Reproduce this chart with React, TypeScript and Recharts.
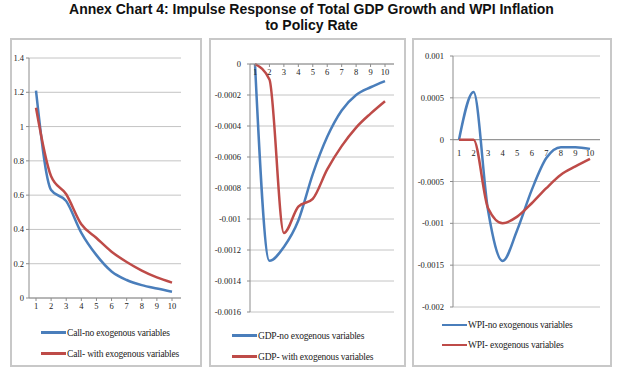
import React from 'react';
import { LineChart, Line, XAxis, YAxis, CartesianGrid, Legend, ReferenceLine } from 'recharts';

const periods = ['1', '2', '3', '4', '5', '6', '7', '8', '9', '10'];

const callNoExo = [1.21, 0.63, 0.565, 0.38, 0.25, 0.155, 0.105, 0.075, 0.055, 0.037];
const callWithExo = [1.11, 0.71, 0.605, 0.43, 0.35, 0.27, 0.21, 0.16, 0.12, 0.09];

const gdpNoExo = [0, -0.00127, -0.00118, -0.00101, -0.00071, -0.00047, -0.0003, -0.0002, -0.00015, -0.00011];
const gdpWithExo = [0, -0.0001, -0.00109, -0.00092, -0.00087, -0.00068, -0.00053, -0.00041, -0.00032, -0.00024];

const wpiNoExo = [0, 0.00057, -0.00085, -0.00145, -0.00108, -0.0006, -0.00022, -0.00009, -0.00009, -0.00011];
const wpiWithExo = [0, 0, -0.00082, -0.001, -0.00092, -0.00076, -0.00058, -0.00042, -0.00032, -0.00023];

const callTicks = [0, 0.2, 0.4, 0.6, 0.8, 1, 1.2, 1.4];
const gdpTicks = [0, -0.0002, -0.0004, -0.0006, -0.0008, -0.001, -0.0012, -0.0014, -0.0016];
const wpiTicks = [0.001, 0.0005, 0, -0.0005, -0.001, -0.0015, -0.002];

const legendCall = ['Call-no exogenous variables', 'Call- with exogenous variables'];
const legendGdp = ['GDP-no exogenous variables', 'GDP- with exogenous variables'];
const legendWpi = ['WPI-no exogenous variables', 'WPI- exogenous variables'];

const BLUE = '#4a7ebb';
const RED = '#be4b48';
const GRID = '#c4c4c4';
const AXIS = '#8c8c8c';
const SERIF = '"Liberation Serif", "Times New Roman", serif';

const build = (a: number[], b: number[]) => periods.map((p, i) => ({ p, a: a[i], b: b[i] }));

const callData = build(callNoExo, callWithExo);
const gdpData = build(gdpNoExo, gdpWithExo);
const wpiData = build(wpiNoExo, wpiWithExo);

const tickStyle = { fontSize: 8.5, fill: '#222', fontFamily: SERIF };

function makeLegend(labels: string[], height: number, padTop: number, padLeft: number, rowH: number) {
  return () => (
    <div style={{ height, paddingTop: padTop, paddingLeft: padLeft, boxSizing: 'border-box' }}>
      {labels.map((l, i) => (
        <div key={l} style={{ height: rowH, display: 'flex', alignItems: 'center' }}>
          <span style={{ display: 'inline-block', width: 25, height: 2.5, background: i === 0 ? BLUE : RED, marginRight: 1 }} />
          <span style={{ fontFamily: SERIF, fontSize: 9.5, color: '#222', letterSpacing: -0.2, whiteSpace: 'nowrap' }}>{l}</span>
        </div>
      ))}
    </div>
  );
}

const Box = ({ left, width, children }: { left: number; width: number; children: React.ReactNode }) => (
  <div style={{ position: 'absolute', left, top: 38, width, height: 329 }}>
    {children}
    <div style={{ position: 'absolute', left: 0, top: 0, width, height: 329, boxSizing: 'border-box', border: '2px solid #c8c8c8', pointerEvents: 'none' }} />
  </div>
);

const WpiTick = (props: any) => {
  const { x, y, payload } = props;
  return (
    <text x={x} y={y + 84 + 8} textAnchor="middle" fontSize={8.5} fill="#222" fontFamily={SERIF}>
      {payload.value}
    </text>
  );
};

export default function App() {
  return (
    <div style={{ position: 'absolute', left: 0, top: 0, width: 623, height: 377, background: '#fff', overflow: 'hidden' }}>
      <div style={{ position: 'absolute', left: 0, top: 1, width: 623, textAlign: 'center', fontFamily: '"Liberation Sans", Arial, sans-serif', fontWeight: 'bold', fontSize: 14, lineHeight: '16px', color: '#111' }}>
        Annex Chart 4: Impulse Response of Total GDP Growth and WPI Inflation
        <br />
        to Policy Rate
      </div>

      <Box left={10} width={192}>
        <LineChart width={192} height={329} data={callData} margin={{ top: 20, right: 21, left: 0, bottom: 0 }}>
          <CartesianGrid vertical={false} stroke={GRID} />
          <XAxis dataKey="p" height={20} padding={{ left: 7, right: 9 }} tick={tickStyle} tickSize={3} tickMargin={2} stroke={AXIS} interval={0} />
          <YAxis width={19} domain={[0, 1.4]} ticks={callTicks} tick={tickStyle} tickSize={3} tickMargin={2} stroke={AXIS} interval={0} />
          <Legend verticalAlign="bottom" align="left" layout="horizontal" content={makeLegend(legendCall, 49, 4, 31, 21)} />
          <Line type="monotone" dataKey="a" name={legendCall[0]} stroke={BLUE} strokeWidth={2.5} dot={false} isAnimationActive={false} />
          <Line type="monotone" dataKey="b" name={legendCall[1]} stroke={RED} strokeWidth={2.5} dot={false} isAnimationActive={false} />
        </LineChart>
      </Box>

      <Box left={209} width={197}>
        <LineChart width={197} height={329} data={gdpData} margin={{ top: 26, right: 12, left: 0, bottom: 0 }}>
          <CartesianGrid vertical={false} stroke={GRID} />
          <XAxis dataKey="p" orientation="top" mirror padding={{ left: 5, right: 9 }} tick={tickStyle} tickSize={3} tickMargin={2} stroke={AXIS} interval={0} />
          <YAxis width={41} domain={[-0.0016, 0]} ticks={gdpTicks} tick={tickStyle} tickSize={3} tickMargin={6} stroke={AXIS} interval={0} />
          <Legend verticalAlign="bottom" align="left" layout="horizontal" content={makeLegend(legendGdp, 55, 13, 23, 21)} />
          <Line type="monotone" dataKey="a" name={legendGdp[0]} stroke={BLUE} strokeWidth={2.5} dot={false} isAnimationActive={false} />
          <Line type="monotone" dataKey="b" name={legendGdp[1]} stroke={RED} strokeWidth={2.5} dot={false} isAnimationActive={false} />
        </LineChart>
      </Box>

      <Box left={412} width={200}>
        <LineChart width={200} height={329} data={wpiData} margin={{ top: 18, right: 12, left: 0, bottom: 0 }}>
          <CartesianGrid vertical={false} stroke={GRID} />
          <XAxis dataKey="p" orientation="top" mirror padding={{ left: 6, right: 10 }} axisLine={false} tickLine={false} tick={<WpiTick />} interval={0} />
          <YAxis width={41} domain={[-0.002, 0.001]} ticks={wpiTicks} tick={tickStyle} tickSize={3} tickMargin={6} stroke={AXIS} interval={0} />
          <ReferenceLine y={0} stroke={AXIS} />
          <Legend verticalAlign="bottom" align="left" layout="horizontal" content={makeLegend(legendWpi, 60, 8, 30, 20)} />
          <Line type="monotone" dataKey="a" name={legendWpi[0]} stroke={BLUE} strokeWidth={2.5} dot={false} isAnimationActive={false} />
          <Line type="monotone" dataKey="b" name={legendWpi[1]} stroke={RED} strokeWidth={2.5} dot={false} isAnimationActive={false} />
        </LineChart>
      </Box>
    </div>
  );
}
